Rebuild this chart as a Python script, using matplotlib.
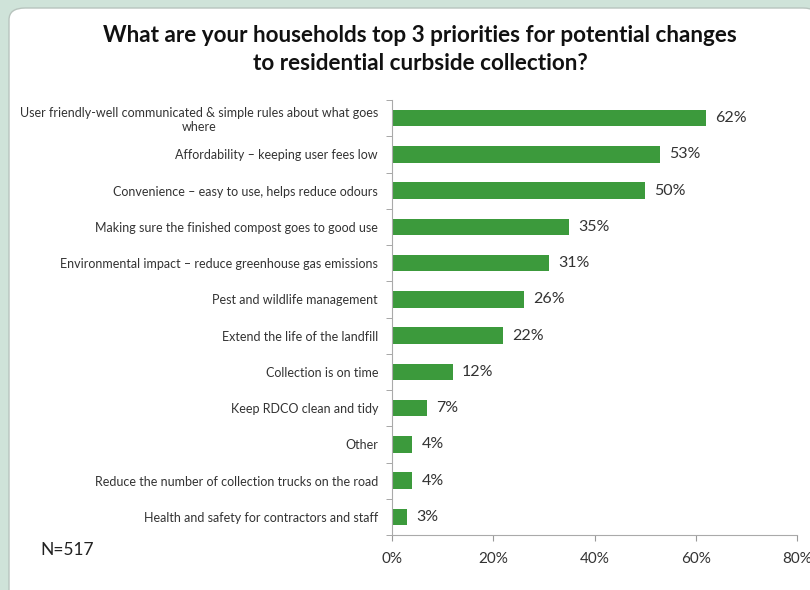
import matplotlib.pyplot as plt
from matplotlib.patches import FancyBboxPatch

categories = [
    "User friendly-well communicated & simple rules about what goes\nwhere",
    "Affordability \u2013 keeping user fees low",
    "Convenience \u2013 easy to use, helps reduce odours",
    "Making sure the finished compost goes to good use",
    "Environmental impact \u2013 reduce greenhouse gas emissions",
    "Pest and wildlife management",
    "Extend the life of the landfill",
    "Collection is on time",
    "Keep RDCO clean and tidy",
    "Other",
    "Reduce the number of collection trucks on the road",
    "Health and safety for contractors and staff",
]
values = [62, 53, 50, 35, 31, 26, 22, 12, 7, 4, 4, 3]
xticks = [0, 20, 40, 60, 80]

plt.rcParams['font.family'] = ['Lato', 'DejaVu Sans']

fig = plt.figure(figsize=(8.1, 5.9), dpi=100)
fig.patch.set_facecolor('#cfe3d9')
# white rounded panel behind the chart
panel = FancyBboxPatch((9 / 810, -0.05), 1.0, 1.05 - 8 / 590,
                       boxstyle="round,pad=0,rounding_size=0.02",
                       transform=fig.transFigure, facecolor='white',
                       edgecolor='#b8c4be', linewidth=1, zorder=-5)
fig.add_artist(panel)

ax = fig.add_axes([392 / 810, 55 / 590, 405 / 810, 435 / 590])
ax.set_zorder(2)
ax.set_facecolor('none')
ypos = list(range(len(categories)))[::-1]
ax.barh(ypos, values, height=0.45, color='#3c9a3c')
for y, v in zip(ypos, values):
    ax.text(v + 1.8, y, f"{v}%", va='center', ha='left', fontsize=11.5, color='#333333')

ax.set_xlim(0, 80)
ax.set_ylim(-0.5, len(categories) - 0.5)
ax.set_xticks(xticks)
ax.set_xticklabels([f"{t}%" for t in xticks], fontsize=11, color='#333333')
ax.set_yticks(ypos)
ax.set_yticklabels(categories, fontsize=9, color='#333333', multialignment='center')
ax.set_yticks([i - 0.5 for i in range(len(categories) + 1)], minor=True)
ax.tick_params(axis='y', which='major', length=0, pad=10)
ax.tick_params(axis='y', which='minor', length=4, color='#999999', direction='out')
ax.tick_params(axis='x', length=4, color='#999999', pad=8)
for s in ['top', 'right']:
    ax.spines[s].set_visible(False)
for s in ['left', 'bottom']:
    ax.spines[s].set_color('#aaaaaa')

fig.text(420 / 810, 1 - 35 / 590, "What are your households top 3 priorities for potential changes",
         ha='center', va='center', fontsize=16.2, fontweight='bold', color='#111111')
fig.text(420 / 810, 1 - 63 / 590, "to residential curbside collection?",
         ha='center', va='center', fontsize=16.2, fontweight='bold', color='#111111')
fig.text(40 / 810, 1 - 550 / 590, "N=517", ha='left', va='center', fontsize=12.5, color='#222222')

fig.savefig('out.png', dpi=100, facecolor=fig.get_facecolor())
